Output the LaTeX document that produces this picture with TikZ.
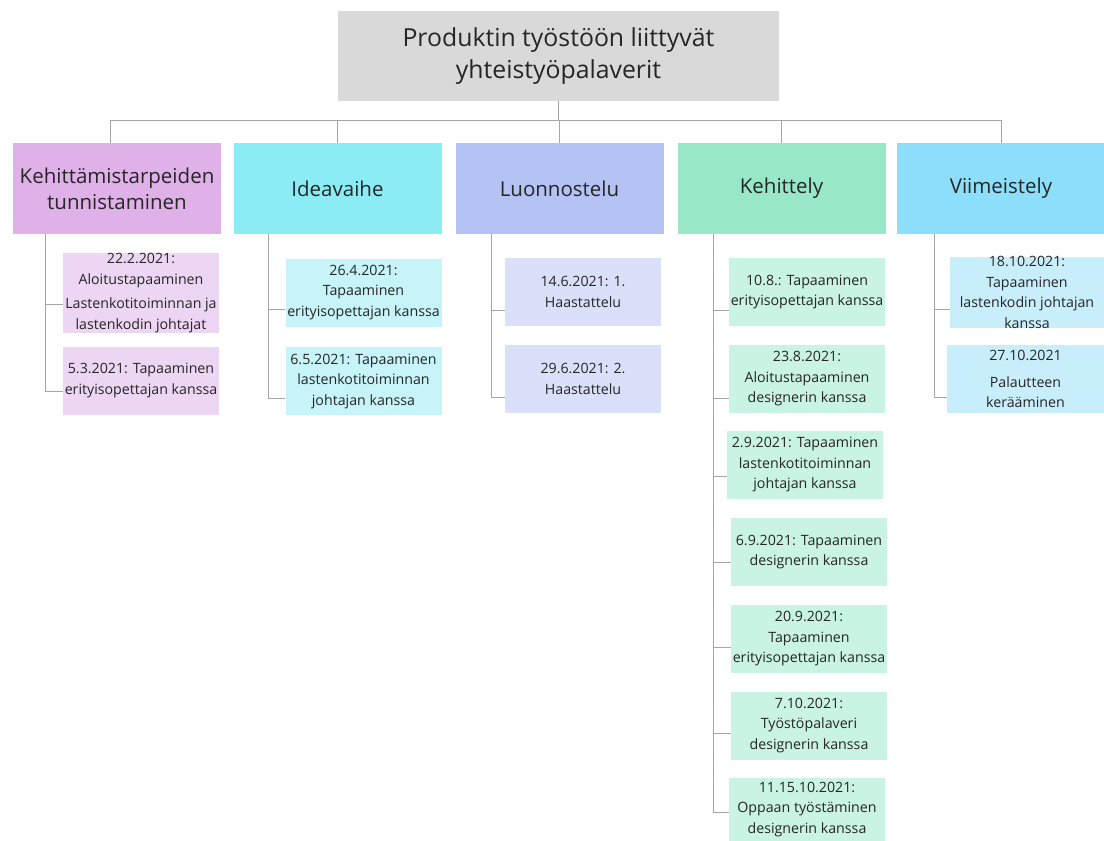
\documentclass[tikz,border=0pt]{standalone}
\usepackage{fontspec}
\setmainfont{Open Sans}
\definecolor{rootgray}{HTML}{D9D9D9}
\definecolor{linkgray}{HTML}{A6A6A6}
\definecolor{headA}{HTML}{E0B0E8}
\definecolor{itemA}{HTML}{EDD6F3}
\definecolor{headB}{HTML}{8CECF5}
\definecolor{itemB}{HTML}{C6F4F9}
\definecolor{headC}{HTML}{B4C2F4}
\definecolor{itemC}{HTML}{DAE0FA}
\definecolor{headD}{HTML}{98E8C8}
\definecolor{itemD}{HTML}{C9F3E2}
\definecolor{headE}{HTML}{8CDEFA}
\definecolor{itemE}{HTML}{C8EEFC}
\begin{document}
\begin{tikzpicture}[x=1pt, y=-1pt,
    box/.style={rectangle, inner sep=0pt, align=center, text=black!85},
    rootbox/.style={box, fill=rootgray, minimum width=441pt, minimum height=90pt, font=\fontsize{24.8}{32}\selectfont},
    headbox/.style={box, minimum width=208pt, minimum height=91pt, font=\fontsize{20.5}{26}\selectfont},
    itembox/.style={box, minimum width=156pt, minimum height=68pt, font=\fontsize{14.2}{20.5}\selectfont},
    link/.style={draw=linkgray, line width=1pt}]
    \useasboundingbox (0,0) rectangle (1104,841);

    % Root and the five phases
    \node[rootbox] (root) at (558.5,56) {Produktin työstöön liittyvät\\yhteistyöpalaverit};

    \node[headbox, fill=headA] (h1) at (117,188.5) {Kehittämistarpeiden\\tunnistaminen};
    \node[headbox, fill=headB] (h2) at (337.5,188.5) {Ideavaihe};
    \node[headbox, fill=headC] (h3) at (559.5,188.5) {Luonnostelu};
    \node[headbox, fill=headD] (h4) at (781.5,188.5) {Kehittely};
    \node[headbox, fill=headE] (h5) at (1001,188.5) {Viimeistely};

    % Meetings of each phase
    \node[itembox, fill=itemA] (c11) at (141,293) {22.2.2021:\\Aloitustapaaminen\\[4pt]Lastenkotitoiminnan ja\\lastenkodin johtajat};
    \node[itembox, fill=itemA] (c12) at (141,380.5) {5.3.2021: Tapaaminen\\erityisopettajan kanssa};

    \node[itembox, fill=itemB] (c21) at (363.5,292.5) {26.4.2021:\\Tapaaminen\\erityisopettajan kanssa};
    \node[itembox, fill=itemB] (c22) at (363.5,381) {6.5.2021: Tapaaminen\\lastenkotitoiminnan\\johtajan kanssa};

    \node[itembox, fill=itemC] (c31) at (583,292) {14.6.2021: 1.\\Haastattelu};
    \node[itembox, fill=itemC] (c32) at (583,379) {29.6.2021: 2.\\Haastattelu};

    \node[itembox, fill=itemD] (c41) at (807,292) {10.8.: Tapaaminen\\erityisopettajan kanssa};
    \node[itembox, fill=itemD] (c42) at (807,379) {23.8.2021:\\Aloitustapaaminen\\designerin kanssa};
    \node[itembox, fill=itemD] (c43) at (805,464.5) {2.9.2021: Tapaaminen\\lastenkotitoiminnan\\johtajan kanssa};
    \node[itembox, fill=itemD] (c44) at (809,552) {6.9.2021: Tapaaminen\\designerin kanssa};
    \node[itembox, fill=itemD] (c45) at (809,639) {20.9.2021:\\Tapaaminen\\erityisopettajan kanssa};
    \node[itembox, fill=itemD] (c46) at (809,725.5) {7.10.2021:\\Työstöpalaveri\\designerin kanssa};
    \node[itembox, fill=itemD, minimum height=63pt] (c47) at (807,809.5) {11.15.10.2021:\\Oppaan työstäminen\\designerin kanssa};

    \node[itembox, fill=itemE, minimum width=154pt] (c51) at (1027,292.5) {18.10.2021:\\Tapaaminen\\lastenkodin johtajan\\kanssa};
    \node[itembox, fill=itemE, minimum width=157pt] (c52) at (1025.5,379) {27.10.2021\\[6pt]Palautteen\\kerääminen};

    % Connectors from the root
    \coordinate (bus) at (558.5,120);
    \draw[link] (root) -- (bus);
    \draw[link] (bus) -| ([xshift=-7pt]h1.north);
    \draw[link] (bus) -| (h2);
    \draw[link] (bus) -| (h3);
    \draw[link] (bus) -| (h4);
    \draw[link] (bus) -| (h5);

    % Trunks under the phases
    \coordinate (t1) at ([xshift=33pt]h1.south west);
    \coordinate (t2) at ([xshift=35pt]h2.south west);
    \coordinate (t3) at ([xshift=36pt]h3.south west);
    \coordinate (t4) at ([xshift=36pt]h4.south west);
    \coordinate (t5) at ([xshift=38pt]h5.south west);

    \draw[link] (t1) |- ([yshift=-11pt]c11.west);
    \draw[link] (t1) |- ([yshift=-11pt]c12.west);
    \draw[link] (t2) |- ([yshift=-17pt]c21.west);
    \draw[link] (t2) |- ([yshift=-17pt]c22.west);
    \draw[link] (t3) |- ([yshift=-18pt]c31.west);
    \draw[link] (t3) |- ([yshift=-18pt]c32.west);
    \draw[link] (t4) |- ([yshift=-18pt]c41.west);
    \draw[link] (t4) |- ([yshift=-19pt]c42.west);
    \draw[link] (t4) |- ([yshift=-12pt]c43.west);
    \draw[link] (t4) |- ([yshift=-10pt]c44.west);
    \draw[link] (t4) |- ([yshift=-8pt]c45.west);
    \draw[link] (t4) |- ([yshift=-8pt]c46.west);
    \draw[link] (t4) |- ([yshift=-3pt]c47.west);
    \draw[link] (t5) |- ([yshift=-17pt]c51.west);
    \draw[link] (t5) |- ([yshift=-18pt]c52.west);
\end{tikzpicture}
\end{document}
